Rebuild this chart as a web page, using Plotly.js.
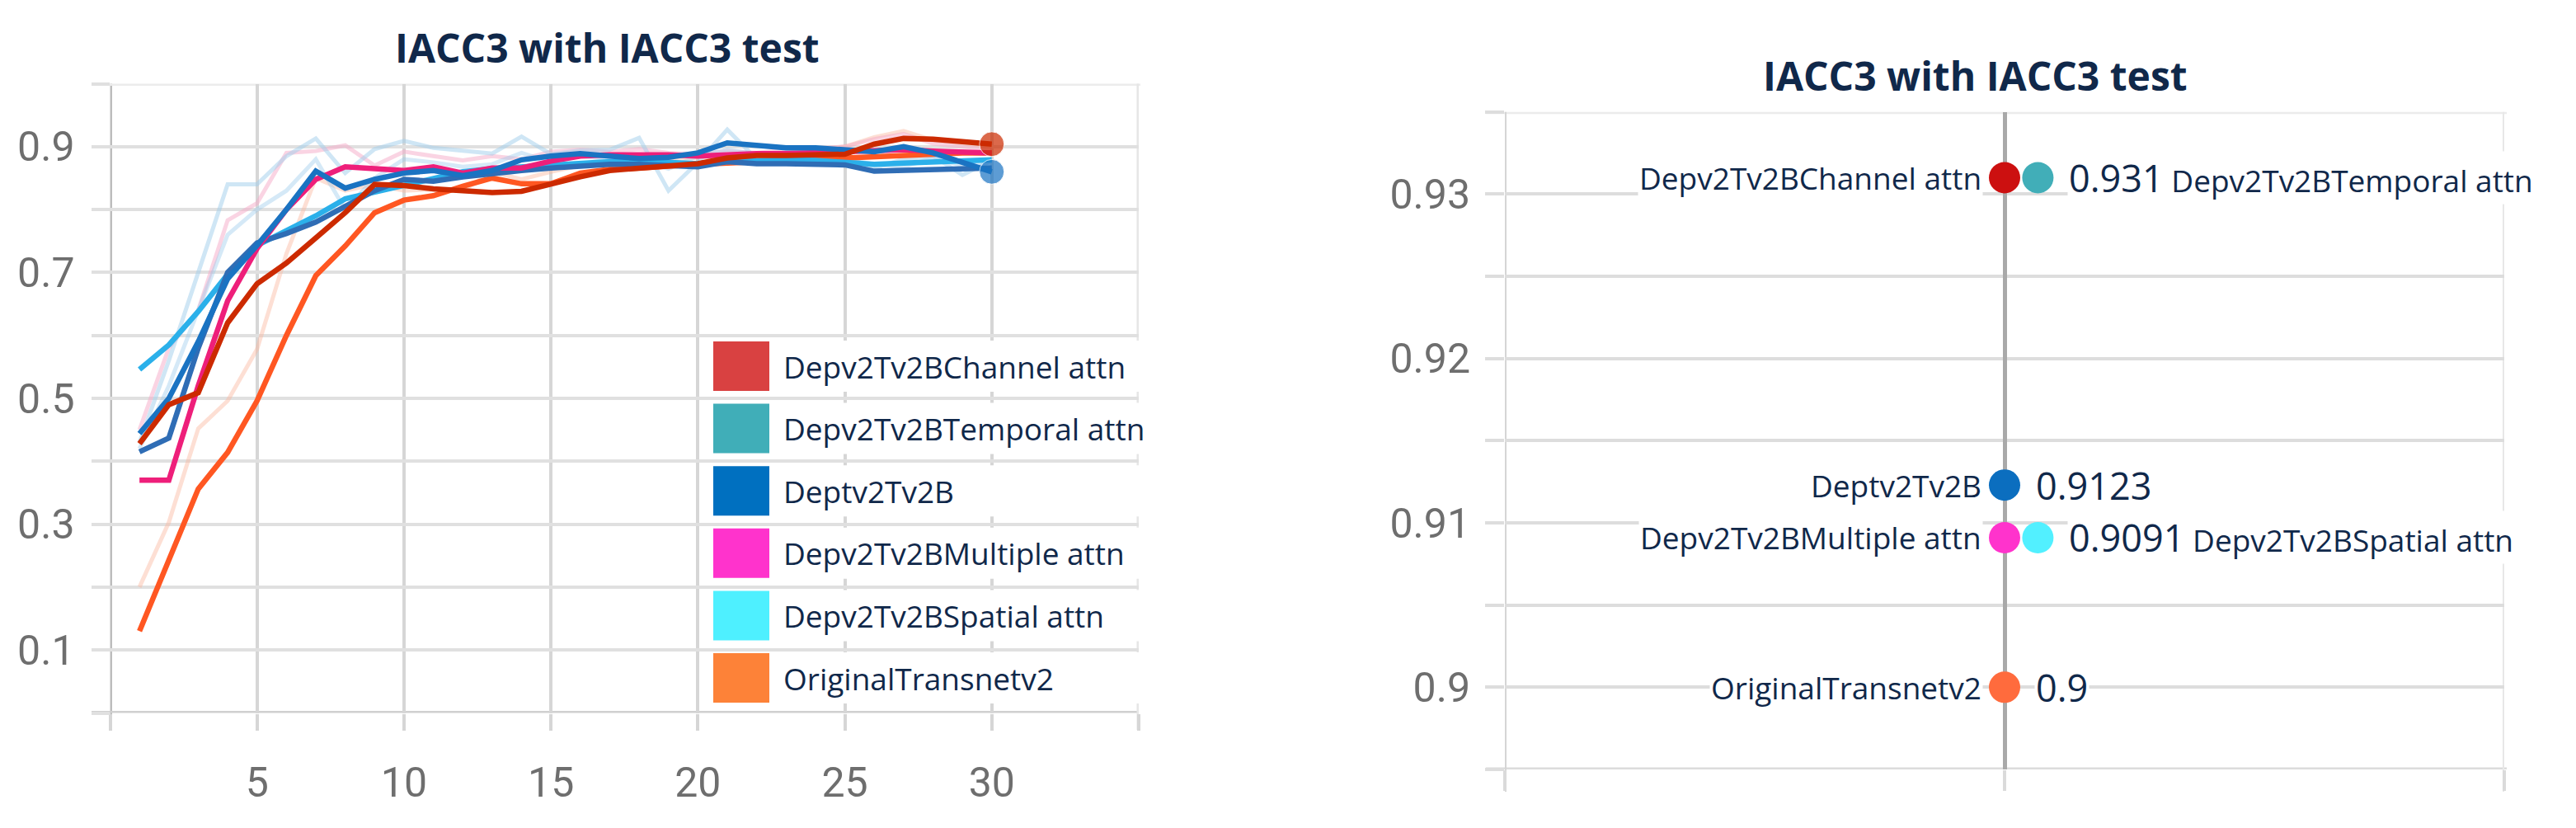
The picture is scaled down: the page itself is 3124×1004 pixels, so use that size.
<!DOCTYPE html>
<html><head><meta charset="utf-8">
<script src="https://cdn.plot.ly/plotly-3.0.1.min.js"></script>
<style>html,body{margin:0;padding:0;background:#fff;}#chart{width:3124px;height:1004px;}</style>
</head><body><div id="chart"></div>
<script>
// ---------- data ----------
const epochs = [1,2,3,4,5,6,7,8,9,10,11,12,13,14,15,16,17,18,19,20,21,22,23,24,25,26,27,28,29,30];
const seriesNames = ['Depv2Tv2BChannel attn','Depv2Tv2BTemporal attn','Deptv2Tv2B','Depv2Tv2BMultiple attn','Depv2Tv2BSpatial attn','OriginalTransnetv2'];

// smoothed accuracy curves (left chart)
const channelAcc  = [0.428,0.490,0.509,0.620,0.682,0.715,0.755,0.795,0.840,0.838,0.833,0.830,0.827,0.829,0.841,0.852,0.862,0.866,0.868,0.873,0.882,0.886,0.886,0.886,0.888,0.904,0.913,0.912,0.908,0.904];
const temporalAcc = [0.415,0.437,0.580,0.700,0.747,0.762,0.780,0.804,0.830,0.848,0.845,0.852,0.858,0.862,0.866,0.870,0.872,0.872,0.870,0.868,0.876,0.873,0.873,0.873,0.871,0.861,0.862,0.864,0.866,0.866];
const deptAcc     = [0.444,0.500,0.590,0.690,0.743,0.800,0.861,0.834,0.848,0.858,0.862,0.854,0.862,0.879,0.885,0.889,0.885,0.881,0.883,0.890,0.906,0.901,0.898,0.898,0.896,0.892,0.900,0.890,0.875,0.860];
const multipleAcc = [0.370,0.370,0.520,0.655,0.738,0.800,0.848,0.868,0.865,0.862,0.868,0.858,0.866,0.866,0.877,0.885,0.887,0.888,0.887,0.885,0.888,0.889,0.889,0.890,0.891,0.892,0.895,0.893,0.892,0.890];
const spatialAcc  = [0.546,0.585,0.638,0.697,0.743,0.767,0.790,0.817,0.828,0.840,0.850,0.860,0.865,0.868,0.872,0.875,0.876,0.877,0.875,0.873,0.876,0.878,0.879,0.878,0.876,0.872,0.874,0.876,0.878,0.879];
const originalAcc = [0.130,0.244,0.356,0.414,0.496,0.600,0.695,0.742,0.795,0.815,0.822,0.837,0.850,0.841,0.841,0.858,0.864,0.866,0.870,0.872,0.874,0.876,0.878,0.880,0.882,0.885,0.888,0.890,0.890,0.890];

// raw (unsmoothed) runs drawn faintly behind
const rawBlueA  = [0.430,0.560,0.700,0.840,0.840,0.885,0.913,0.858,0.896,0.909,0.898,0.893,0.889,0.916,0.888,0.894,0.895,0.914,0.830,0.875,0.927,0.880,0.886,0.890,0.884,0.866,0.880,0.885,0.855,0.878];
const rawBlueB  = [0.420,0.520,0.640,0.760,0.800,0.830,0.880,0.800,0.850,0.880,0.875,0.868,0.872,0.890,0.875,0.885,0.880,0.878,0.865,0.885,0.895,0.888,0.886,0.884,0.880,0.872,0.868,0.882,0.870,0.875];
const rawPink   = [0.450,0.580,0.640,0.783,0.810,0.890,0.893,0.902,0.870,0.892,0.885,0.878,0.885,0.880,0.892,0.895,0.892,0.896,0.890,0.888,0.893,0.890,0.895,0.897,0.900,0.912,0.920,0.905,0.900,0.895];
const rawSalmon = [0.200,0.303,0.452,0.496,0.578,0.730,0.850,0.830,0.840,0.830,0.832,0.830,0.860,0.848,0.860,0.870,0.875,0.880,0.880,0.882,0.885,0.880,0.890,0.895,0.900,0.915,0.925,0.910,0.905,0.900];

// left chart ticks
const xTickVals = [0,5,10,15,20,25,30,35];
const xTickText = ['','5','10','15','20','25','30',''];
const yTickVals = [0,0.1,0.2,0.3,0.4,0.5,0.6,0.7,0.8,0.9,1.0];
const yTickText = ['','0.1','','0.3','','0.5','','0.7','','0.9',''];

// right chart: final accuracies
const finalAcc    = [0.931,0.931,0.9123,0.9091,0.9091,0.9];
const finalColumn = [0,1,0,0,1,0];
const nameSide    = ['left','right','left','left','right','left'];
const showValue   = [false,true,true,false,true,true];
const rightYTickVals = [0.895,0.9,0.905,0.91,0.915,0.92,0.925,0.93,0.935];
const rightYTickText = ['','0.9','','0.91','','0.92','','0.93',''];

// ---------- styling ----------
const W = 3124, H = 1004;
const px = v => v / W, py = v => 1 - v / H;
const navy = '#10284a';
const legendColors = ['#d94141','#40aeb8','#0070c0','#ff33cc','#4ef0ff','#fd8238'];
const lineColors   = ['#cc2a00','#2f6db5','#1a73c2','#ee1f7a','#2bb0ea','#ff5722'];
const dotColors    = ['#cc1010','#41aeb8','#0b6ebf','#ff33cc','#52f0ff','#ff6b3d'];
const tickFont = {family:'Roboto, sans-serif', size:50, color:'#6e6e6e'};
const labelFont = {family:'Open Sans, sans-serif', size:37, color:navy};

const traces = [];
const faint = [[rawSalmon,'rgba(250,185,160,0.45)'],[rawPink,'rgba(245,170,200,0.5)'],[rawBlueB,'rgba(150,200,235,0.4)'],[rawBlueA,'rgba(160,205,235,0.5)']];
faint.forEach(([ys,c]) => traces.push({x:epochs,y:ys,type:'scatter',mode:'lines',line:{color:c,width:5},xaxis:'x',yaxis:'y',hoverinfo:'skip'}));

const mainSeries = [
  [originalAcc,5,false],[spatialAcc,4,false],[temporalAcc,1,false],[multipleAcc,3,false],[deptAcc,2,true],[channelAcc,0,true]
];
mainSeries.forEach(([ys,ci,endDot]) => {
  traces.push({x:epochs,y:ys,type:'scatter',mode:endDot?'lines+markers':'lines',
    line:{color:lineColors[ci],width:6.5},
    marker:{color:lineColors[ci],size:ys.map((v,i)=> i===ys.length-1 ? 30 : 0)},
    name:seriesNames[ci],xaxis:'x',yaxis:'y'});
});

// right chart dots
traces.push({x:finalColumn,y:finalAcc,type:'scatter',mode:'markers',
  marker:{color:dotColors,size:38,line:{width:0}},text:seriesNames,xaxis:'x2',yaxis:'y2'});

const annotations = [
  {xref:'paper',yref:'paper',x:px(736),y:py(58),xanchor:'center',yanchor:'middle',showarrow:false,
   text:'<b>IACC3 with IACC3 test</b>',font:{family:'Open Sans, sans-serif',size:48,color:navy}},
  {xref:'paper',yref:'paper',x:px(2395),y:py(91),xanchor:'center',yanchor:'middle',showarrow:false,
   text:'<b>IACC3 with IACC3 test</b>',font:{family:'Open Sans, sans-serif',size:48,color:navy}}
];

// plot-area borders (Plotly omits grid lines that sit on the range edges)
const shapes = [
  {type:'line',xref:'x',yref:'paper',x0:0,x1:0,y0:py(885),y1:py(101.5),line:{color:'#bdbdbd',width:5},layer:'between'},
  {type:'line',xref:'paper',yref:'y',x0:px(111),x1:px(1381),y0:0,y1:0,line:{color:'#d0d0d0',width:5},layer:'between'},
  {type:'line',xref:'paper',yref:'y',x0:px(111),x1:px(1383),y0:1,y1:1,line:{color:'#ececec',width:5},layer:'below'},
  {type:'line',xref:'x',yref:'paper',x0:35,x1:35,y0:py(885),y1:py(101.5),line:{color:'#e6e6e6',width:5},layer:'below'},
  {type:'line',xref:'paper',yref:'y2',x0:px(1802),x1:px(3040),y0:0.935,y1:0.935,line:{color:'#ebebeb',width:5},layer:'below'},
  {type:'line',xref:'paper',yref:'y2',x0:px(1802),x1:px(3040),y0:0.895,y1:0.895,line:{color:'#dcdcdc',width:5},layer:'below'},
  {type:'line',xref:'x2',yref:'paper',x0:-15,x1:-15,y0:py(960),y1:py(135.7),line:{color:'#d5d5d5',width:4},layer:'below'},
  {type:'line',xref:'x2',yref:'paper',x0:15,x1:15,y0:py(960),y1:py(135.7),line:{color:'#e8e8e8',width:4},layer:'below'}
];

// left chart legend
seriesNames.forEach((n,i) => {
  const yc = 444 + i*75.6;
  shapes.push({type:'rect',xref:'paper',yref:'paper',x0:px(858),x1:px(1386),y0:py(yc+31),y1:py(yc-31),fillcolor:'#ffffff',line:{width:0},layer:'above'});
  shapes.push({type:'rect',xref:'paper',yref:'paper',x0:px(865),x1:px(933),y0:py(yc+30),y1:py(yc-30),fillcolor:legendColors[i],line:{width:0},layer:'above'});
  annotations.push({xref:'paper',yref:'paper',x:px(948),y:py(yc),xanchor:'left',yanchor:'middle',showarrow:false,text:n,font:labelFont});
});

// right chart labels
seriesNames.forEach((n,i) => {
  if (nameSide[i]==='left') {
    annotations.push({xref:'x2',yref:'y2',x:finalColumn[i],y:finalAcc[i],xanchor:'right',yanchor:'middle',xshift:-26,
      showarrow:false,text:n,font:labelFont,bgcolor:'#ffffff'});
  }
  let rt = '';
  if (showValue[i]) rt += '<span style="font-size:45px">' + String(finalAcc[i]) + '</span>';
  if (nameSide[i]==='right') rt += ' ' + n;
  if (rt) {
    annotations.push({xref:'x2',yref:'y2',x:finalColumn[i],y:finalAcc[i],xanchor:'left',yanchor:'middle',xshift:36,
      showarrow:false,text:rt,font:labelFont,bgcolor:'#ffffff'});
  }
});

const layout = {
  width:W,height:H,margin:{l:0,r:0,t:0,b:0},paper_bgcolor:'#ffffff',plot_bgcolor:'#ffffff',showlegend:false,
  xaxis:{domain:[px(133.5),px(1381)],range:[0,35],tickmode:'array',tickvals:xTickVals,ticktext:xTickText,
    showgrid:true,gridcolor:'#d6d6d6',gridwidth:4,zeroline:false,showline:false,
    ticks:'outside',ticklen:20,tickwidth:4,tickcolor:'#d6d6d6',tickfont:tickFont,ticklabelstandoff:20,anchor:'y'},
  yaxis:{domain:[py(864.5),py(101.5)],range:[0,1],tickmode:'array',tickvals:yTickVals,ticktext:yTickText,
    showgrid:true,gridcolor:'#e0e0e0',gridwidth:4,zeroline:false,showline:false,
    ticks:'outside',ticklen:22,tickwidth:4,tickcolor:'#e0e0e0',tickfont:tickFont,ticklabelstandoff:10,anchor:'x'},
  xaxis2:{domain:[px(1825),px(3037)],range:[-15,15],tickmode:'array',tickvals:[-15,0,15],showticklabels:false,
    showgrid:true,gridcolor:'#dadada',gridwidth:4,zeroline:true,zerolinecolor:'#a9a9a9',zerolinewidth:5,showline:false,
    ticks:'outside',ticklen:25,tickwidth:4,tickcolor:'#dadada',anchor:'y2'},
  yaxis2:{domain:[py(933),py(135.7)],range:[0.895,0.935],tickmode:'array',tickvals:rightYTickVals,ticktext:rightYTickText,
    showgrid:true,gridcolor:'#dddddd',gridwidth:4,zeroline:false,showline:false,
    ticks:'outside',ticklen:23,tickwidth:4,tickcolor:'#dddddd',tickfont:tickFont,ticklabelstandoff:8,anchor:'x2'},
  annotations:annotations,shapes:shapes
};
Plotly.newPlot('chart',traces,layout,{displayModeBar:false,staticPlot:true});
</script></body></html>
